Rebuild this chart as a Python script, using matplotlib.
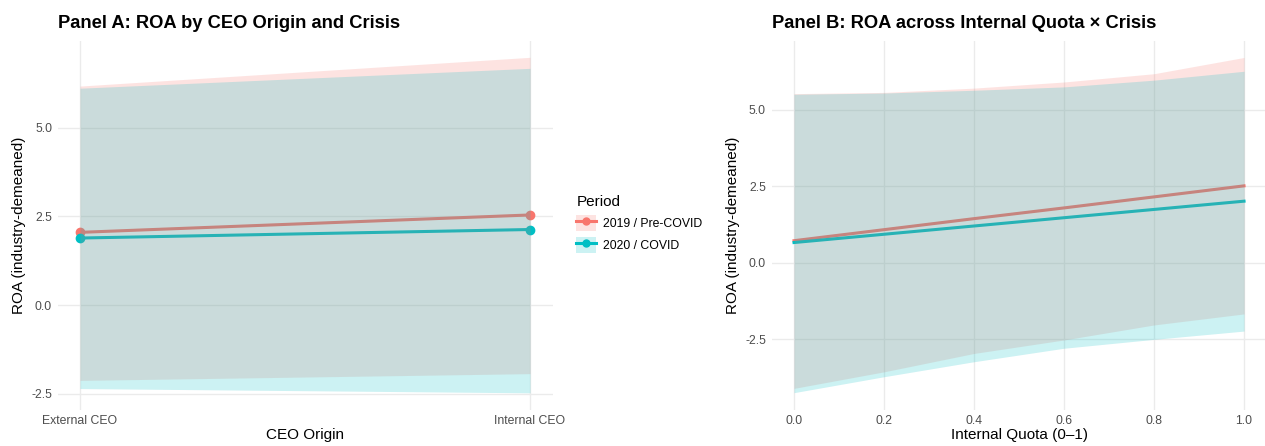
import matplotlib.pyplot as plt
from matplotlib.patches import Patch
from matplotlib.lines import Line2D

plt.rcParams['font.family'] = ['Liberation Sans', 'DejaVu Sans']

# Panel A: CEO origin (discrete), predicted ROA with confidence bands
origins = ['External CEO', 'Internal CEO']
a_pre_fit = [2.05, 2.54]
a_pre_lo = [-2.12, -1.93]
a_pre_hi = [6.17, 6.98]
a_cov_fit = [1.89, 2.13]
a_cov_lo = [-2.35, -2.47]
a_cov_hi = [6.11, 6.67]

# Panel B: internal quota (continuous)
quota = [0.0, 0.2, 0.4, 0.6, 0.8, 1.0]
b_pre_fit = [0.72, 1.08, 1.44, 1.79, 2.15, 2.51]
b_pre_lo = [-4.10, -3.56, -2.96, -2.52, -2.03, -1.67]
b_pre_hi = [5.52, 5.56, 5.70, 5.90, 6.17, 6.70]
b_cov_fit = [0.66, 0.93, 1.20, 1.47, 1.74, 2.01]
b_cov_lo = [-4.24, -3.72, -3.23, -2.79, -2.50, -2.23]
b_cov_hi = [5.50, 5.54, 5.63, 5.74, 5.96, 6.25]

periods = ['2019 / Pre-COVID', '2020 / COVID']
colors = ['#F8766D', '#00BFC4']

fig = plt.figure(figsize=(12.65, 4.46), dpi=100)
axA = fig.add_axes([0.0455, 0.0818, 0.3913, 0.8271])
axB = fig.add_axes([0.6099, 0.0818, 0.3913, 0.8271])

def style(ax):
    for s in ax.spines.values():
        s.set_visible(False)
    ax.grid(True, color='#EBEBEB', linewidth=1.0)
    ax.set_axisbelow(True)
    ax.tick_params(length=0, labelsize=8.8, labelcolor='#4D4D4D', pad=4)

xa = list(range(len(origins)))
# lines first, ribbons drawn on top
axA.plot(xa, a_pre_fit, color=colors[0], lw=2.2, marker='o', ms=6, zorder=2)
axA.plot(xa, a_cov_fit, color=colors[1], lw=2.2, marker='o', ms=6, zorder=2)
axA.fill_between(xa, a_pre_lo, a_pre_hi, color=colors[0], alpha=0.2, lw=0, zorder=3)
axA.fill_between(xa, a_cov_lo, a_cov_hi, color=colors[1], alpha=0.2, lw=0, zorder=3)
axA.set_xticks(xa)
axA.set_xticklabels(origins)
axA.set_xlim(-0.05, 1.05)
axA.set_ylim(-2.94, 7.45)
axA.set_yticks([-2.5, 0.0, 2.5, 5.0])
axA.set_yticklabels(['-2.5', '0.0', '2.5', '5.0'])
style(axA)
axA.set_xlabel('CEO Origin', fontsize=11, labelpad=1)
axA.set_ylabel('ROA (industry-demeaned)', fontsize=11, labelpad=4)
axA.set_title('Panel A: ROA by CEO Origin and Crisis', fontsize=13.2,
              fontweight='bold', loc='left', pad=9)

axB.plot(quota, b_pre_fit, color=colors[0], lw=2.2, zorder=2)
axB.plot(quota, b_cov_fit, color=colors[1], lw=2.2, zorder=2)
axB.fill_between(quota, b_pre_lo, b_pre_hi, color=colors[0], alpha=0.2, lw=0, zorder=3)
axB.fill_between(quota, b_cov_lo, b_cov_hi, color=colors[1], alpha=0.2, lw=0, zorder=3)
axB.set_xlim(-0.05, 1.05)
axB.set_ylim(-4.79, 7.25)
axB.set_xticks(quota)
axB.set_xticklabels(['0.0', '0.2', '0.4', '0.6', '0.8', '1.0'])
axB.set_yticks([-2.5, 0.0, 2.5, 5.0])
axB.set_yticklabels(['-2.5', '0.0', '2.5', '5.0'])
style(axB)
axB.set_xlabel('Internal Quota (0\u20131)', fontsize=11, labelpad=1)
axB.set_ylabel('ROA (industry-demeaned)', fontsize=11, labelpad=4)
axB.set_title('Panel B: ROA across Internal Quota \u00d7 Crisis', fontsize=13.2,
              fontweight='bold', loc='left', pad=9)

handles = []
for c in colors:
    box = Patch(facecolor=c, alpha=0.2, edgecolor='none')
    ln = Line2D([], [], color=c, lw=2.2, marker='o', ms=5)
    handles.append((box, ln))
fig.legend(handles, periods, title='Period', loc='center left',
           bbox_to_anchor=(0.447, 0.497), frameon=False, fontsize=8.8,
           title_fontsize=11, handlelength=1.6, handleheight=1.7,
           handletextpad=0.6, labelspacing=0.45, alignment='left')

fig.savefig('out.png', dpi=100)
